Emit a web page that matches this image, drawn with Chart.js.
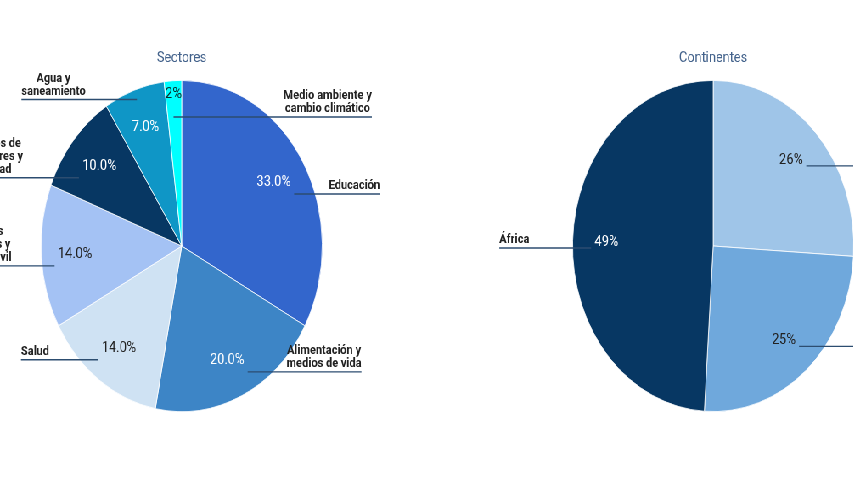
<!DOCTYPE html>
<html>
<head>
<meta charset="utf-8">
<script src="https://cdn.jsdelivr.net/npm/chart.js@4"></script>
<style>
html,body{margin:0;padding:0;width:853px;height:480px;overflow:hidden;background:#fff;}
#wrap{position:absolute;left:0;top:0;width:1022px;height:480px;transform:scaleX(0.849);transform-origin:0 0;}
#c1{position:absolute;left:0;top:0;}
#c2{position:absolute;left:502px;top:0;}
</style>
</head>
<body>
<div id="wrap">
<canvas id="c1" width="502" height="480"></canvas>
<canvas id="c2" width="520" height="480"></canvas>
</div>
<script>
// ---- data ----
const sectorLabels = [["Educación"], ["Alimentación y", "medios de vida"], ["Salud"], ["Gobiernos", "ciudadanos y", "sociedad civil"], ["Derechos de", "las mujeres y", "igualdad"], ["Agua y", "saneamiento"], ["Medio ambiente y", "cambio climático"]];
const sectorValues = [33, 20, 14, 14, 10, 7, 2];
const continentLabels = [["América"], ["Asia"], ["África"]];
const continentValues = [26, 25, 49];

const leaderPlugin = {
  id: 'leaders',
  afterDatasetsDraw(chart, args, opts) {
    const ctx = chart.ctx;
    const meta = chart.getDatasetMeta(0);
    const data = chart.data.datasets[0].data;
    const labels = chart.data.labels;
    const total = data.reduce((a, b) => a + b, 0);
    ctx.save();
    meta.data.forEach((arc, i) => {
      const p = arc.getProps(['x', 'y', 'startAngle', 'endAngle', 'outerRadius'], true);
      const cx = p.x, cy = p.y, r = p.outerRadius;
      const mid = (p.startAngle + p.endAngle) / 2;
      const pct = data[i] / total * 100;
      const small = pct < 5, medium = pct >= 5 && pct < 8;
      const frac = small ? 0.92 : 0.76;
      const lx = cx + Math.cos(mid) * r * frac, ly = cy + Math.sin(mid) * r * frac;
      const txt = (small ? pct.toFixed(0) : pct.toFixed(opts.decimals)) + '%';
      ctx.font = '15px Roboto';
      ctx.textAlign = 'center';
      ctx.textBaseline = 'middle';
      ctx.fillStyle = opts.pctColors[i];
      ctx.fillText(txt, lx, ly);
      const tw = ctx.measureText(txt).width;
      const right = Math.cos(mid) > -0.1;
      let lineY, innerX;
      if (small) { lineY = ly + 23; innerX = lx; }
      else if (medium) { lineY = cy + Math.sin(mid) * r * 0.94; innerX = cx + Math.cos(mid) * r * 0.94; }
      else { lineY = ly + opts.lineOffset; innerX = right ? lx + tw / 2 + 4 : lx - tw / 2 - 4; }
      const dy = lineY - cy;
      const dx = Math.sqrt(Math.max(r * r - dy * dy, 0));
      const edge = right ? cx + dx : cx - dx;
      ctx.font = 'bold 13px Roboto';
      const lines = labels[i];
      let bw = 0;
      lines.forEach(t => { bw = Math.max(bw, ctx.measureText(t).width); });
      const gap = right ? opts.gapRight : opts.gapLeft;
      const outerX = right ? edge + gap + bw : edge - gap - bw;
      ctx.strokeStyle = '#2c4d70';
      ctx.lineWidth = 1.4;
      ctx.beginPath();
      ctx.moveTo(innerX, lineY);
      ctx.lineTo(outerX, lineY);
      ctx.stroke();
      ctx.fillStyle = '#222';
      const bx = right ? outerX - bw / 2 : outerX + bw / 2;
      lines.forEach((t, j) => {
        ctx.fillText(t, bx, lineY - 8 - (lines.length - 1 - j) * 13);
      });
    });
    ctx.restore();
  }
};

function makePie(id, labels, values, colors, leaderOpts, title, pad) {
  return new Chart(document.getElementById(id), {
    type: 'pie',
    data: {
      labels: labels,
      datasets: [{ data: values, backgroundColor: colors, borderColor: '#ffffff', borderWidth: 0.8 }]
    },
    options: {
      responsive: false,
      animation: false,
      layout: { padding: pad },
      plugins: {
        legend: { display: false },
        tooltip: { enabled: false },
        title: {
          display: true, text: title, color: '#44638c',
          font: { family: 'Roboto', size: 15, weight: 'normal' },
          padding: { top: 49, bottom: 13 }
        },
        leaders: leaderOpts
      }
    },
    plugins: [leaderPlugin]
  });
}

makePie('c1', sectorLabels, sectorValues,
  ['#3366cc', '#3d85c6', '#cfe2f3', '#a4c2f4', '#073763', '#0f96c6', '#00ffff'],
  { pctColors: ['#ffffff', '#ffffff', '#222222', '#222222', '#ffffff', '#ffffff', '#0b2a2a'],
    decimals: 1, lineOffset: 12, gapLeft: 36, gapRight: 16 },
  'Sectores', { left: 48, right: 122, top: 0, bottom: 68 });

makePie('c2', continentLabels, continentValues,
  ['#9fc5e8', '#6fa8dc', '#073763'],
  { pctColors: ['#222222', '#222222', '#ffffff'],
    decimals: 0, lineOffset: 6, gapLeft: 51, gapRight: 50 },
  'Continentes', { left: 172, right: 16, top: 0, bottom: 68 });
</script>
</body>
</html>
